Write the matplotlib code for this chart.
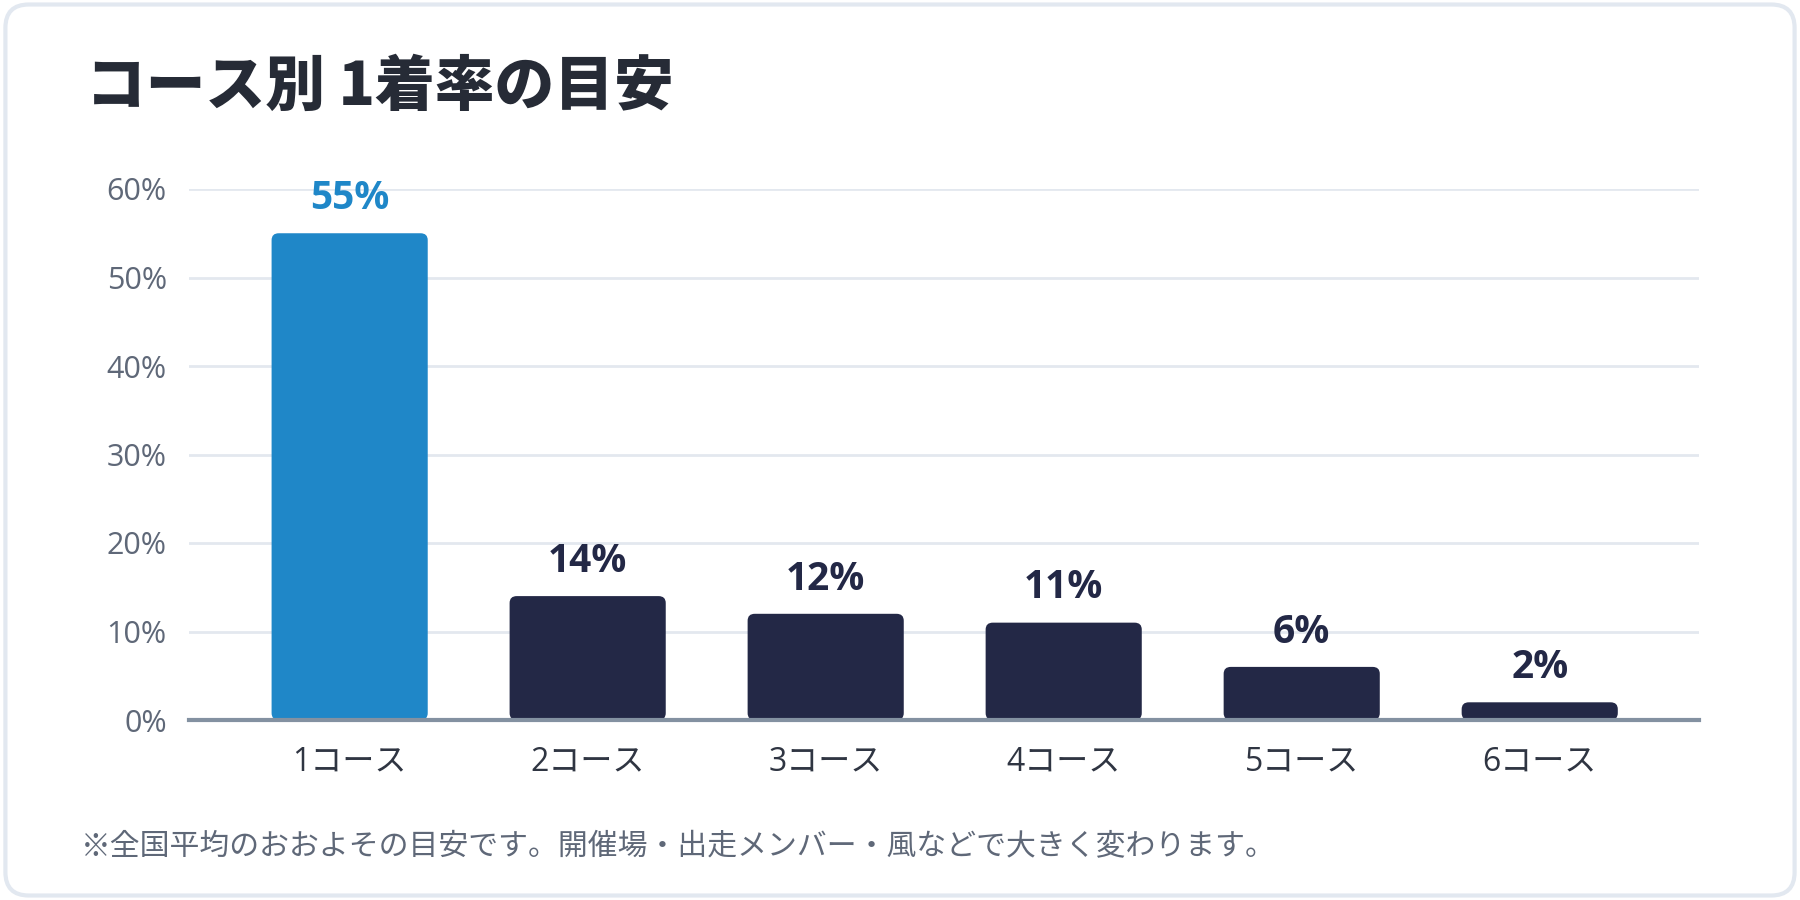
import matplotlib.pyplot as plt
from matplotlib.patches import FancyBboxPatch

plt.rcParams['font.family'] = ['Noto Sans CJK JP', 'DejaVu Sans']

courses = ['1コース', '2コース', '3コース', '4コース', '5コース', '6コース']
win_rates = [55, 14, 12, 11, 6, 2]
y_ticks = [0, 10, 20, 30, 40, 50, 60]
title = 'コース別 1着率の目安'
note = '※全国平均のおおよその目安です。開催場・出走メンバー・風などで大きく変わります。'

BLUE = '#1f87c8'
NAVY = '#232846'
GRID = '#e3e8ef'
TEXT = '#5f6878'
NUM_FONT = ['Open Sans', 'Noto Sans CJK JP']

fig = plt.figure(figsize=(18, 9), dpi=100)
fig.patch.set_facecolor('white')

# card border
card = FancyBboxPatch((0.003, 0.005), 0.994, 0.99, transform=fig.transFigure,
                      boxstyle='round,pad=0,rounding_size=0.013', mutation_aspect=2,
                      facecolor='white', edgecolor='#e2e8f0', linewidth=3, zorder=-5)
fig.patches.append(card)

ax = fig.add_axes([0.105, 0.2, 0.839, 0.59])
ax.set_facecolor('none')
x = list(range(len(courses)))
colors = [BLUE] + [NAVY] * (len(courses) - 1)

bars = ax.bar(x, win_rates, width=0.656, color=colors)
ax.set_xlim(-0.675, 5.67)
ax.set_ylim(0, 60)

# swap plain bars for rounded ones
for b, c in zip(bars, colors):
    b.set_visible(False)
    rb = FancyBboxPatch((b.get_x(), b.get_y()), b.get_width(), b.get_height(),
                        boxstyle='round,pad=0,rounding_size=0.03', mutation_aspect=26,
                        facecolor=c, edgecolor='none', zorder=3)
    ax.add_patch(rb)

for xi, v, c in zip(x, win_rates, colors):
    ax.annotate(f'{v}%', (xi, v), xytext=(0, 11), textcoords='offset points',
                ha='center', va='bottom', fontsize=28, fontweight='bold', color=c,
                family=NUM_FONT)

ax.set_yticks(y_ticks)
ax.set_yticklabels([f'{t}%' for t in y_ticks], family=NUM_FONT)
ax.set_xticks(x)
ax.set_xticklabels(courses, family=NUM_FONT)
ax.grid(axis='y', color=GRID, linewidth=2)
ax.set_axisbelow(True)
for s in ['top', 'right', 'left']:
    ax.spines[s].set_visible(False)
ax.spines['bottom'].set_color('#8391a1')
ax.spines['bottom'].set_linewidth(3)
ax.spines['bottom'].set_zorder(4)
ax.tick_params(axis='y', length=0, pad=16, labelsize=22, labelcolor=TEXT)
ax.tick_params(axis='x', length=0, pad=18, labelsize=23, labelcolor='#2f3542')

fig.text(0.048, 0.904, title, fontsize=43, fontweight='heavy', color='#262b36',
         ha='left', va='center')
fig.text(0.045, 0.059, note, fontsize=21.5, color=TEXT, ha='left', va='center')

fig.savefig('out.png', dpi=100)
